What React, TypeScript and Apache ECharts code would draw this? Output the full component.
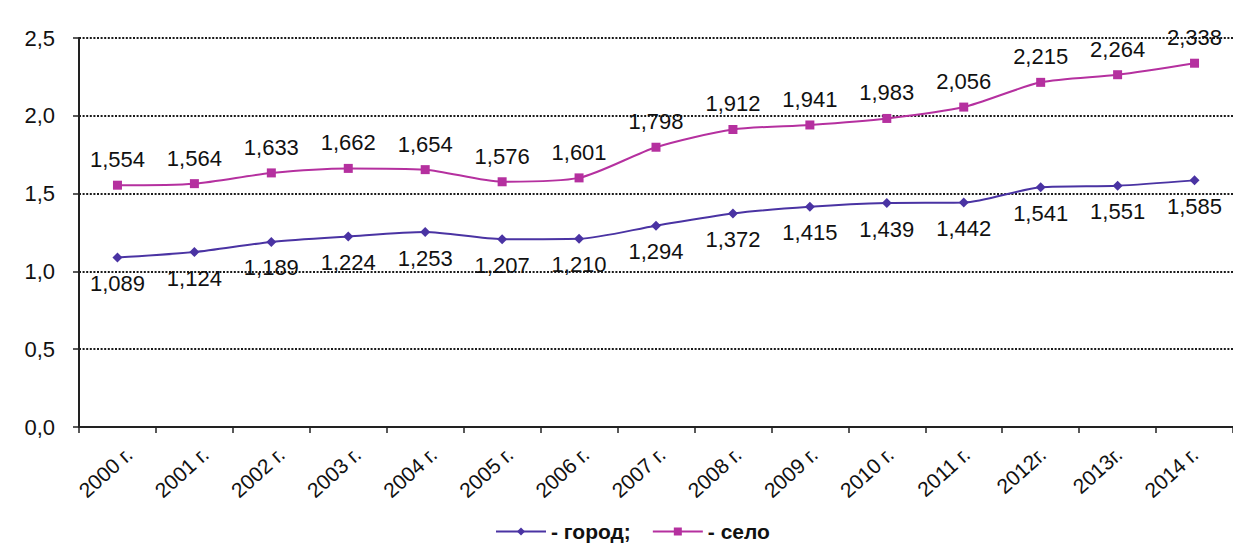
import React, { useEffect, useRef } from "react";
import * as echarts from "echarts";

const categories = [
  "2000 г.", "2001 г.", "2002 г.", "2003 г.", "2004 г.", "2005 г.", "2006 г.", "2007 г.",
  "2008 г.", "2009 г.", "2010 г.", "2011 г.", "2012г.", "2013г.", "2014 г.",
];
const gorod = [1.089, 1.124, 1.189, 1.224, 1.253, 1.207, 1.21, 1.294, 1.372, 1.415, 1.439, 1.442, 1.541, 1.551, 1.585];
const selo = [1.554, 1.564, 1.633, 1.662, 1.654, 1.576, 1.601, 1.798, 1.912, 1.941, 1.983, 2.056, 2.215, 2.264, 2.338];
const seriesNames = ["город", "село"];

const FONT = "'Liberation Sans', Arial, sans-serif";
const fmt = (v: number, d: number) => v.toFixed(d).replace(".", ",");

const GRID_LEFT = 79;
const GRID_TOP = 38;
const GRID_W = 1174.5;
const GRID_H = 389;

export default function App() {
  const ref = useRef<HTMLDivElement>(null);
  useEffect(() => {
    if (!ref.current) return;
    const chart = echarts.init(ref.current, null, { renderer: "svg" });
    chart.setOption({
      animation: false,
      backgroundColor: "#ffffff",
      textStyle: { fontFamily: FONT },
      grid: [
        { left: GRID_LEFT, top: GRID_TOP, width: GRID_W, height: GRID_H, containLabel: false },
        { left: GRID_LEFT + 12, top: GRID_TOP, width: GRID_W, height: GRID_H, containLabel: false },
      ],
      legend: {
        top: 516,
        left: 490,
        itemWidth: 50,
        itemHeight: 10,
        itemGap: 21,
        textStyle: { fontFamily: FONT, fontSize: 21, fontWeight: "bold", color: "#111" },
        formatter: (n: string) => (n === "город" ? "- город;" : "- село"),
        data: seriesNames,
      },
      xAxis: [
        {
          type: "category",
          gridIndex: 0,
          data: categories,
          boundaryGap: true,
          axisLine: { lineStyle: { color: "#222", width: 2 } },
          axisTick: { show: true, length: 6, lineStyle: { color: "#222", width: 1.5 } },
          axisLabel: { show: false },
        },
        {
          type: "category",
          gridIndex: 1,
          data: categories,
          boundaryGap: true,
          axisLine: { show: false },
          axisTick: { show: false },
          axisLabel: {
            rotate: 42,
            fontSize: 21,
            color: "#111",
            fontFamily: FONT,
            margin: 24,
            interval: 0,
          },
        },
      ],
      yAxis: [
        {
          type: "value",
          gridIndex: 0,
          min: 0,
          max: 2.5,
          interval: 0.5,
          axisLine: { show: true, lineStyle: { color: "#222", width: 2 } },
          axisTick: { show: true, length: 6, lineStyle: { color: "#222", width: 1.5 } },
          axisLabel: {
            fontSize: 22,
            color: "#111",
            fontFamily: FONT,
            margin: 24,
            formatter: (v: number) => fmt(v, 1),
          },
          splitLine: { show: true, lineStyle: { color: "#1a1a1a", width: 2, type: [2, 1.6] } },
        },
        {
          type: "value",
          gridIndex: 1,
          min: 0,
          max: 2.5,
          interval: 0.5,
          show: false,
        },
      ],
      series: [
        {
          name: seriesNames[0],
          type: "line",
          xAxisIndex: 0,
          yAxisIndex: 0,
          data: gorod,
          smooth: 0.25,
          symbol: "diamond",
          symbolSize: 10,
          lineStyle: { color: "#4a33a3", width: 2 },
          itemStyle: { color: "#4a33a3" },
          label: {
            show: true,
            position: "bottom",
            distance: 10,
            fontSize: 22,
            color: "#111",
            fontFamily: FONT,
            formatter: (p: any) => fmt(p.value, 3),
          },
        },
        {
          name: seriesNames[1],
          type: "line",
          xAxisIndex: 0,
          yAxisIndex: 0,
          data: selo,
          smooth: 0.25,
          symbol: "rect",
          symbolSize: 9,
          lineStyle: { color: "#b5309f", width: 2 },
          itemStyle: { color: "#b5309f" },
          label: {
            show: true,
            position: "top",
            distance: 10,
            fontSize: 22,
            color: "#111",
            fontFamily: FONT,
            formatter: (p: any) => fmt(p.value, 3),
          },
        },
      ],
    });
    return () => chart.dispose();
  }, []);
  return (
    <div
      ref={ref}
      style={{ position: "absolute", left: 0, top: 0, width: 1233, height: 546, background: "#fff" }}
    />
  );
}
